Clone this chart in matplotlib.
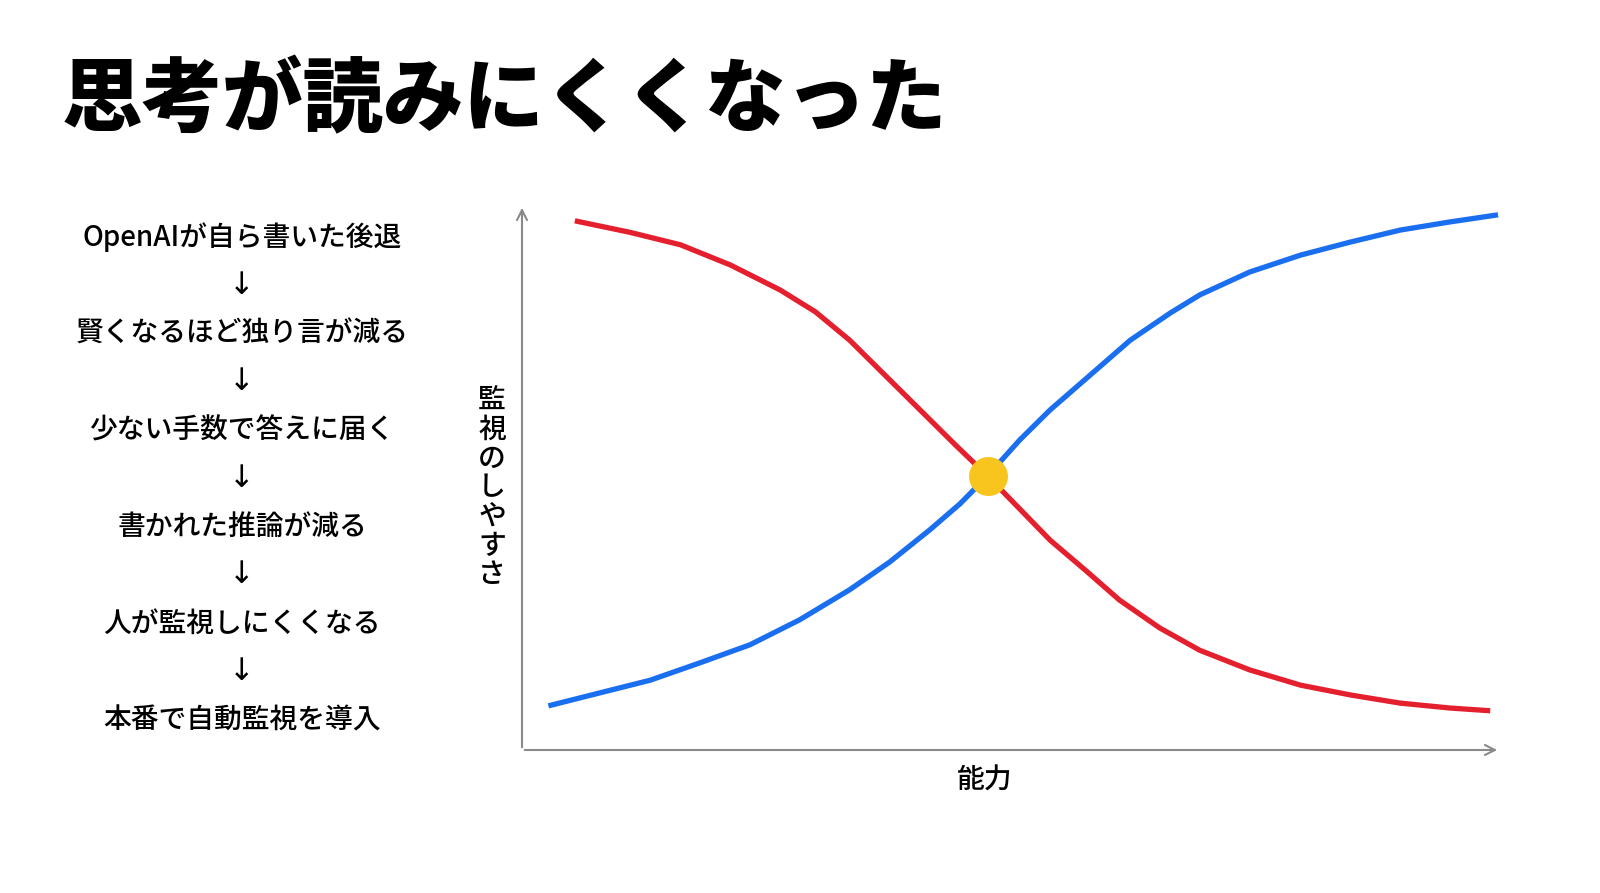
import matplotlib.pyplot as plt
import numpy as np

plt.rcParams['font.family'] = ['Noto Sans CJK JP', 'DejaVu Sans']

# curve points (x: 能力, y: 監視のしやすさ, both 0-100)
blue_x = [2.7, 8.0, 13.1, 18.2, 23.3, 28.4, 33.5, 37.6, 41.7, 44.8, 47.6, 50.9, 54.0, 58.1, 62.2, 66.3, 69.3, 74.4, 79.6, 84.7, 89.8, 94.9, 99.8]
blue_y = [8.1, 10.5, 12.8, 16.0, 19.3, 23.9, 29.4, 34.5, 40.4, 45.2, 50.3, 56.9, 62.4, 68.8, 75.2, 80.2, 83.5, 87.7, 90.8, 93.2, 95.4, 96.9, 98.2]
red_x = [5.4, 11.0, 16.2, 21.3, 26.4, 30.0, 33.5, 37.1, 40.7, 44.3, 47.6, 50.8, 54.0, 57.6, 61.1, 65.2, 69.3, 74.4, 79.6, 84.7, 89.8, 94.9, 99.0]
red_y = [97.1, 95.0, 92.7, 89.0, 84.4, 80.4, 75.2, 68.8, 62.4, 56.0, 50.3, 44.4, 38.5, 33.0, 27.5, 22.4, 18.3, 14.7, 11.9, 10.1, 8.6, 7.7, 7.2]
cross = (47.6, 50.3)

title = "思考が読みにくくなった"
steps = ["OpenAIが自ら書いた後退", "賢くなるほど独り言が減る", "少ない手数で答えに届く",
         "書かれた推論が減る", "人が監視しにくくなる", "本番で自動監視を導入"]
ylabel = "監視のしやすさ"
xlabel = "能力"

W, H = 1600, 893
fig = plt.figure(figsize=(W / 100, H / 100), dpi=100)
fig.patch.set_facecolor('white')

fig.text(62 / W, 1 - 102 / H, title, fontsize=58, fontweight='black', va='center', ha='left')

y = 237
for i, s in enumerate(steps):
    fig.text(242 / W, 1 - y / H, s, fontsize=20, fontweight='medium', ha='center', va='center')
    if i < len(steps) - 1:
        fig.text(242 / W, 1 - (y + 48) / H, "↓", fontsize=22, ha='center', va='center',
                 family=['DejaVu Sans'])
    y += 96.6

# axes placed in pixel terms: x 522..1500, y 750..205
ax = fig.add_axes([522 / W, 1 - 750 / H, 978 / W, 545 / H])
ax.set_xlim(0, 100)
ax.set_ylim(0, 100)
ax.axis('off')
ax.annotate('', xy=(100, 0), xytext=(0, 0), annotation_clip=False,
            arrowprops=dict(arrowstyle='->', color='#8a8a8a', lw=1.5, mutation_scale=18))
ax.annotate('', xy=(0, 100), xytext=(0, 0), annotation_clip=False,
            arrowprops=dict(arrowstyle='->', color='#8a8a8a', lw=1.5, mutation_scale=18))

ax.plot(red_x, red_y, color='#E5202E', lw=3.8, solid_capstyle='butt',
        solid_joinstyle='round', clip_on=False)
ax.plot(blue_x, blue_y, color='#1A6FF0', lw=3.8, solid_capstyle='butt',
        solid_joinstyle='round', clip_on=False)
ax.plot(*cross, 'o', color='#F7C51E', markersize=27, zorder=5)

fig.text(492 / W, 1 - 487 / H, "\n".join(ylabel), fontsize=20, fontweight='medium',
         ha='center', va='center', linespacing=1.0)
fig.text(985 / W, 1 - 780 / H, xlabel, fontsize=20, fontweight='medium', ha='center', va='center')

fig.savefig('out.png', dpi=100, facecolor='white')
